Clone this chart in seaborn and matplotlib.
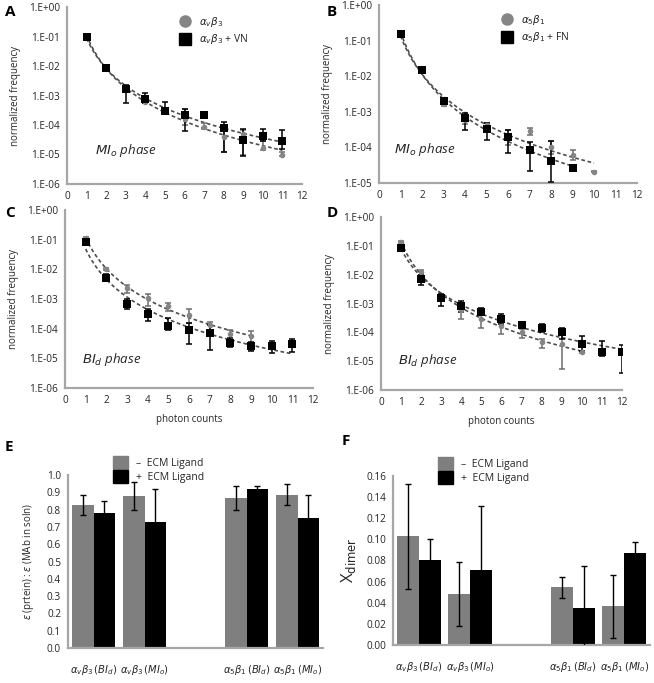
import numpy as np
import pandas as pd
import matplotlib
matplotlib.use("Agg")
import matplotlib.pyplot as plt
import seaborn as sns
from matplotlib.lines import Line2D
from matplotlib.patches import Patch
from matplotlib.ticker import FuncFormatter, FixedLocator

# ---- dados dos paineis A-D (frequencia normalizada x contagem de fotons) ----
a_gray_x = [1, 2, 3, 4, 5, 6, 7, 8, 9, 10, 11]
a_gray_y = [0.1, 9e-3, 1.6e-3, 6.2e-4, 2.9e-4, 1.6e-4, 8.5e-5, 3.8e-5, 4.8e-5, 1.6e-5, 1.0e-5]
a_gray_lo = [0.09, 8e-3, 1.3e-3, 5.5e-4, 2.5e-4, 1.0e-4, 7.5e-5, 1.2e-5, 1.0e-5, 1.4e-5, 9e-6]
a_gray_hi = [0.11, 1e-2, 2e-3, 7e-4, 3.6e-4, 3.6e-4, 1.2e-4, 9e-5, 7e-5, 2.8e-5, 1.2e-5]
a_blk_x = [1, 2, 3, 4, 5, 6, 7, 8, 9, 10, 11]
a_blk_y = [0.1, 8.5e-3, 1.6e-3, 7.5e-4, 3.1e-4, 2.1e-4, 2.1e-4, 8e-5, 3.2e-5, 4.2e-5, 2.9e-5]
a_blk_lo = [0.09, 7.5e-3, 5.5e-4, 5.5e-4, 2.5e-4, 6.5e-5, 1.7e-4, 1.2e-5, 9e-6, 2.8e-5, 1.5e-5]
a_blk_hi = [0.11, 9.5e-3, 2.2e-3, 1.2e-3, 6e-4, 3.6e-4, 2.5e-4, 1.3e-4, 7.2e-5, 7.2e-5, 6.8e-5]

b_gray_x = [1, 2, 3, 4, 5, 6, 7, 8, 9, 10]
b_gray_y = [0.15, 1.5e-2, 1.7e-3, 6e-4, 4.2e-4, 2.2e-4, 2.8e-4, 1e-4, 6.3e-5, 2.1e-5]
b_gray_lo = [0.14, 1.3e-2, 1.5e-3, 4.5e-4, 3.2e-4, 1.2e-4, 2.3e-4, 6.5e-5, 4.5e-5, 2e-5]
b_gray_hi = [0.16, 1.7e-2, 1.9e-3, 8e-4, 4.8e-4, 3.1e-4, 3.5e-4, 1.5e-4, 8.5e-5, 2.2e-5]
b_blk_x = [1, 2, 3, 4, 5, 6, 7, 8, 9]
b_blk_y = [0.15, 1.5e-2, 2e-3, 6.5e-4, 3.2e-4, 2e-4, 8.3e-5, 4.1e-5, 2.6e-5]
b_blk_lo = [0.14, 1.3e-2, 1.7e-3, 3e-4, 1.6e-4, 7e-5, 2.2e-5, 1.1e-5, 2.4e-5]
b_blk_hi = [0.16, 1.7e-2, 2.3e-3, 9.2e-4, 4.8e-4, 3.1e-4, 1.4e-4, 1.5e-4, 2.8e-5]

c_gray_x = [1, 2, 3, 4, 5, 6, 7, 8, 9]
c_gray_y = [0.11, 1.05e-2, 2.3e-3, 1.07e-3, 5.7e-4, 2.9e-4, 1.3e-4, 6.6e-5, 5.5e-5]
c_gray_lo = [0.1, 9.5e-3, 1.6e-3, 6e-4, 4e-4, 1.5e-4, 9e-5, 4e-5, 1.9e-5]
c_gray_hi = [0.12, 1.15e-2, 3e-3, 1.5e-3, 7.5e-4, 4.5e-4, 1.7e-4, 9e-5, 8.5e-5]
c_blk_x = [1, 2, 3, 4, 5, 6, 7, 8, 9, 10, 11]
c_blk_y = [0.085, 5.2e-3, 6.9e-4, 3.2e-4, 1.2e-4, 9.2e-5, 7e-5, 3.4e-5, 2.7e-5, 2.7e-5, 3e-5]
c_blk_lo = [0.07, 4e-3, 4.5e-4, 1.8e-4, 9e-5, 3e-5, 1.9e-5, 2.4e-5, 1.7e-5, 1.5e-5, 1.6e-5]
c_blk_hi = [0.1, 7e-3, 1e-3, 4.5e-4, 2.3e-4, 1.5e-4, 1.3e-4, 5e-5, 3.5e-5, 3.8e-5, 4.4e-5]

d_gray_x = [1, 2, 3, 4, 5, 6, 7, 8, 9, 10]
d_gray_y = [0.136, 1.25e-2, 1.7e-3, 5.9e-4, 3e-4, 1.7e-4, 1e-4, 4.5e-5, 3.8e-5, 2.1e-5]
d_gray_lo = [0.125, 1e-2, 1.4e-3, 3e-4, 1.4e-4, 9e-5, 6.5e-5, 2.8e-5, 5.5e-6, 1.9e-5]
d_gray_hi = [0.15, 1.5e-2, 2e-3, 8e-4, 5e-4, 2.5e-4, 1.3e-4, 6e-5, 1e-4, 2.3e-5]
d_blk_x = [1, 2, 3, 4, 5, 6, 7, 8, 9, 10, 11, 12]
d_blk_y = [0.087, 7.2e-3, 1.6e-3, 8.3e-4, 5.2e-4, 3e-4, 1.8e-4, 1.4e-4, 1e-4, 3.8e-5, 2.1e-5, 2.1e-5]
d_blk_lo = [0.08, 4.5e-3, 8e-4, 5e-4, 4e-4, 2e-4, 1.4e-4, 1e-4, 6e-5, 2.3e-5, 1.5e-5, 3.8e-6]
d_blk_hi = [0.095, 1e-2, 2.1e-3, 1.25e-3, 6.8e-4, 4.2e-4, 2.1e-4, 1.9e-4, 1.45e-4, 7.5e-5, 5e-5, 3.6e-5]

# ---- dados dos paineis E e F (barras) ----
categorias = ["avb3_BI", "avb3_MI", "", "a5b1_BI", "a5b1_MI"]
rotulos = [r"$\alpha_v\beta_3\,(\mathit{BI_d})$", r"$\alpha_v\beta_3\,(\mathit{MI_o})$", "",
           r"$\alpha_5\beta_1\,(\mathit{BI_d})$", r"$\alpha_5\beta_1\,(\mathit{MI_o})$"]
ligantes = ["\u2013  ECM Ligand", "+  ECM Ligand"]

e_menos = [0.827, 0.878, 0.867, 0.886]
e_menos_err = [0.06, 0.08, 0.07, 0.06]
e_mais = [0.778, 0.730, 0.918, 0.749]
e_mais_err = [0.07, 0.19, 0.02, 0.133]

f_menos = [0.1028, 0.0483, 0.0546, 0.0366]
f_menos_err = [0.050, 0.030, 0.010, 0.030]
f_mais = [0.0804, 0.0710, 0.0350, 0.0874]
f_mais_err = [0.020, 0.061, 0.040, 0.010]

CINZA = "#858585"
CINZA_BARRA = "#7f7f7f"
EIXO = "#a6a6a6"
TEXTO = "#262626"

sns.set_style("white")
plt.rcParams["font.family"] = ["Open Sans", "DejaVu Sans"]
plt.rcParams["mathtext.fontset"] = "dejavusans"

fig = plt.figure(figsize=(6.54, 6.83), dpi=100)
W, H = 654.0, 683.0


def eixo(l, r, t, b):
    return fig.add_axes([l / W, 1 - b / H, (r - l) / W, (b - t) / H])


def estilo(ax):
    sns.despine(ax=ax)
    for s in ["left", "bottom"]:
        ax.spines[s].set_color(EIXO)
        ax.spines[s].set_linewidth(1.6)
    ax.tick_params(axis="both", direction="out", length=3, width=1, color=EIXO,
                   labelsize=7.2, labelcolor=TEXTO, pad=2)


def tendencia(ax, x, y):
    # ajuste de potencia (como a linha de tendencia do Excel)
    b, a = np.polyfit(np.log10(x), np.log10(y), 1)
    xx = np.linspace(min(x), max(x), 100)
    ax.plot(xx, 10 ** (a + b * np.log10(xx)), ls=(0, (2.2, 1.6)), color="#4d4d4d", lw=1.2, zorder=2)


def painel_log(ax, gx, gy, glo, ghi, kx, ky, klo, khi, ymin, texto_fase, pos_fase):
    estilo(ax)
    gy, glo, ghi = map(np.array, (gy, glo, ghi))
    ky, klo, khi = map(np.array, (ky, klo, khi))
    ax.errorbar(gx, gy, yerr=[gy - glo, ghi - gy], fmt="none", ecolor="#6e6e6e",
                elinewidth=1.1, capsize=2.5, capthick=1.1, zorder=3)
    ax.errorbar(kx, ky, yerr=[ky - klo, khi - ky], fmt="none", ecolor="black",
                elinewidth=1.1, capsize=2.5, capthick=1.1, zorder=3)
    tendencia(ax, gx, gy)
    tendencia(ax, kx, ky)
    dg = pd.DataFrame({"x": gx, "y": gy})
    dk = pd.DataFrame({"x": kx, "y": ky})
    sns.scatterplot(data=dg, x="x", y="y", ax=ax, color=CINZA, marker="o", s=16,
                    linewidth=0, zorder=4)
    sns.scatterplot(data=dk, x="x", y="y", ax=ax, color="black", marker="s", s=34,
                    linewidth=0, zorder=5)
    ax.set_yscale("log")
    ax.set_ylim(ymin, 1)
    ax.set_xlim(0, 12)
    ax.xaxis.set_major_locator(FixedLocator(range(0, 13)))
    ax.yaxis.set_major_locator(FixedLocator([10.0 ** e for e in range(int(np.log10(ymin)), 1)]))
    ax.yaxis.set_minor_locator(FixedLocator([]))
    ax.yaxis.set_major_formatter(FuncFormatter(lambda v, p: "1.E%+03d" % int(round(np.log10(v)))))
    ax.set_xlabel("")
    ax.set_ylabel("normalized frequency", fontsize=7, color=TEXTO, labelpad=6)
    ax.text(pos_fase[0], pos_fase[1], texto_fase, transform=ax.transAxes, fontsize=9.5,
            style="italic", color=TEXTO, va="center")


axA = eixo(67, 302, 7, 184)
painel_log(axA, a_gray_x, a_gray_y, a_gray_lo, a_gray_hi, a_blk_x, a_blk_y, a_blk_lo, a_blk_hi,
           1e-6, r"$MI_o$ phase", (0.12, 0.19))
axB = eixo(379, 637, 5, 183)
painel_log(axB, b_gray_x, b_gray_y, b_gray_lo, b_gray_hi, b_blk_x, b_blk_y, b_blk_lo, b_blk_hi,
           1e-5, r"$MI_o$ phase", (0.06, 0.19))
axC = eixo(65, 313, 210, 388)
painel_log(axC, c_gray_x, c_gray_y, c_gray_lo, c_gray_hi, c_blk_x, c_blk_y, c_blk_lo, c_blk_hi,
           1e-6, r"$BI_d$ phase", (0.07, 0.16))
axD = eixo(381, 622, 217, 390)
painel_log(axD, d_gray_x, d_gray_y, d_gray_lo, d_gray_hi, d_blk_x, d_blk_y, d_blk_lo, d_blk_hi,
           1e-6, r"$BI_d$ phase", (0.07, 0.17))
axC.set_xlabel("photon counts", fontsize=7, color=TEXTO, labelpad=6)
axD.set_xlabel("photon counts", fontsize=7, color=TEXTO, labelpad=6)

for ax, nomes in [(axA, [r"$\alpha_v\beta_3$", r"$\alpha_v\beta_3$ + VN"]),
                  (axB, [r"$\alpha_5\beta_1$", r"$\alpha_5\beta_1$ + FN"])]:
    alcas = [Line2D([], [], ls="", marker="o", ms=8, color=CINZA, mec=CINZA),
             Line2D([], [], ls="", marker="s", ms=8, color="black")]
    ax.legend(alcas, nomes, loc="upper left", bbox_to_anchor=(0.44, 0.98), frameon=False,
              fontsize=7.5, handletextpad=0.3, labelspacing=0.35, borderaxespad=0)


def painel_barra(ax, menos, menos_err, mais, mais_err, yticks, fmt):
    estilo(ax)
    cats_ok = [c for c in categorias if c]
    df = pd.DataFrame({
        "cat": cats_ok * 2,
        "lig": [ligantes[0]] * 4 + [ligantes[1]] * 4,
        "val": list(menos) + list(mais),
    })
    sns.barplot(data=df, x="cat", y="val", hue="lig", order=categorias, hue_order=ligantes,
                palette=[CINZA_BARRA, "black"], saturation=1, width=0.86, errorbar=None,
                linewidth=0, legend=False, ax=ax)
    idx = np.array([categorias.index(c) for c in cats_ok])
    ax.errorbar(idx - 0.215, menos, yerr=menos_err, fmt="none", ecolor="black", elinewidth=1,
                capsize=2.5, capthick=1, zorder=5)
    ax.errorbar(idx + 0.215, mais, yerr=mais_err, fmt="none", ecolor="black", elinewidth=1,
                capsize=2.5, capthick=1, zorder=5)
    ax.set_xlim(-0.5, 4.5)
    ax.set_ylim(yticks[0], yticks[-1])
    ax.set_yticks(yticks)
    ax.set_yticklabels([fmt % v for v in yticks])
    ax.set_xticks([0, 1, 3, 4])
    ax.set_xticklabels([rotulos[i] for i in [0, 1, 3, 4]], fontsize=7.2)
    ax.tick_params(axis="x", length=0, pad=11)
    ax.set_xlabel("")
    alcas = [Patch(color=CINZA_BARRA), Patch(color="black")]
    ax.legend(alcas, ligantes, loc="lower left", bbox_to_anchor=(0.16, 0.93), frameon=False,
              fontsize=7.5, handlelength=1.4, handleheight=1.5, handletextpad=0.8,
              labelspacing=0.1, borderaxespad=0)


axE = eixo(68, 323, 475, 648)
painel_barra(axE, e_menos, e_menos_err, e_mais, e_mais_err, np.round(np.arange(0, 1.01, 0.1), 1), "%.1f")
axE.set_ylabel(r"$\epsilon$ (prtein) : $\epsilon$ (MAb in soln)", fontsize=7, color=TEXTO, labelpad=8)

axF = eixo(393, 650, 476, 645)
painel_barra(axF, f_menos, f_menos_err, f_mais, f_mais_err, np.round(np.arange(0, 0.161, 0.02), 2), "%.2f")
axF.set_ylabel(r"X$_{\mathrm{dimer}}$", fontsize=12, color=TEXTO, labelpad=6)

# letras dos paineis
for letra, x, y in [("A", 5, 12), ("B", 327, 12), ("C", 5, 213), ("D", 327, 213),
                    ("E", 5, 447), ("F", 342, 441)]:
    fig.text(x / W, 1 - y / H, letra, fontsize=11, fontweight="bold", va="center", ha="left",
             color="black")

fig.savefig("out.png", dpi=100)
